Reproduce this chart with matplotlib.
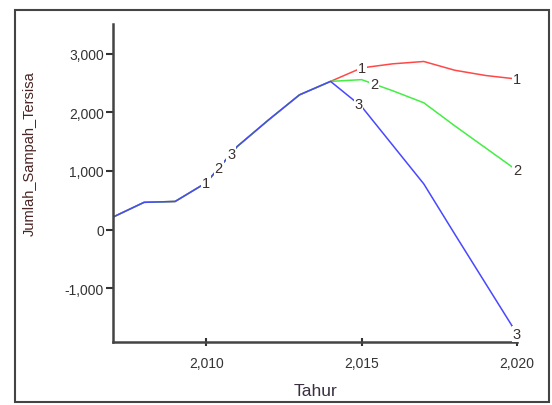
import numpy as np
import matplotlib
matplotlib.use('Agg')
import matplotlib.pyplot as plt
from matplotlib.patches import Rectangle
from matplotlib.ticker import FuncFormatter

plt.rcParams['font.family'] = ['Liberation Sans', 'DejaVu Sans']

# data
years = np.arange(2007, 2021)
common = [213, 465, 480, 800, 1420, 1870, 2300, 2530]   # 2007-2014, all runs equal
run1 = common + [2760, 2830, 2870, 2720, 2630, 2570]
run2 = common + [2560, 2370, 2165, 1770, 1390, 1010]
run3 = common + [2100, 1440, 780, -80, -930, -1780]

series = [run1, run2, run3]
names = ['1', '2', '3']
colors = ['#ff4848', '#44ee44', '#4848ff']
label_years = [[2010, 2015, 2020], [2010.4, 2015.4, 2020], [2010.8, 2014.9, 2020]]

x_ticks = [2010, 2015, 2020]
y_ticks = [-1000, 0, 1000, 2000, 3000]

W, H = 552, 406
fig = plt.figure(figsize=(W / 100, H / 100), dpi=100)
ax = fig.add_axes([113 / W, 1 - 343 / H, (517 - 113) / W, (343 - 25) / H])

# run 3 drawn last, so the shared part shows blue
for s, c in zip(series, colors):
    ax.plot(years, s, color=c, lw=1.1, zorder=2)

for s, n, ly in zip(series, names, label_years):
    for xl in ly:
        yl = np.interp(xl, years, s)
        ax.text(xl, yl, n, fontsize=10.5, color='#3a3030', ha='center', va='center',
                zorder=4, clip_on=False,
                bbox=dict(facecolor='white', edgecolor='none', pad=0.6))

ax.set_xlim(2007, 2020)
ax.set_ylim(-1920, 3510)
ax.set_xticks(x_ticks)
ax.set_yticks(y_ticks)
fmt = FuncFormatter(lambda v, p: '{:,.0f}'.format(v))
ax.xaxis.set_major_formatter(fmt)
ax.yaxis.set_major_formatter(fmt)

for sp in ['top', 'right']:
    ax.spines[sp].set_visible(False)
for sp in ['left', 'bottom']:
    ax.spines[sp].set_color('#444444')
    ax.spines[sp].set_linewidth(1.8)

ax.tick_params(axis='x', direction='inout', length=6, width=1.5, color='#333333',
               pad=7, labelsize=10, labelcolor='#333333')
ax.tick_params(axis='y', direction='out', length=5, width=1.5, color='#333333',
               pad=1.5, labelsize=10, labelcolor='#333333')

fig.text(30 / W, 1 - 154 / H, 'Jumlah_Sampah_Tersisa', rotation=90, fontsize=10.5,
         color='#4a2424', ha='center', va='center')
fig.text(316 / W, 1 - 392 / H, 'Tahur', fontsize=12.5, color='#3a3040',
         ha='center', va='center')

# outer frame round the whole chart
fig.patches.append(Rectangle((14.5 / W, 1 - 403 / H), (549 - 14.5) / W, (403 - 11) / H,
                             transform=fig.transFigure, fill=False,
                             edgecolor='#444444', lw=1.5))

fig.savefig('out.png', dpi=100)
